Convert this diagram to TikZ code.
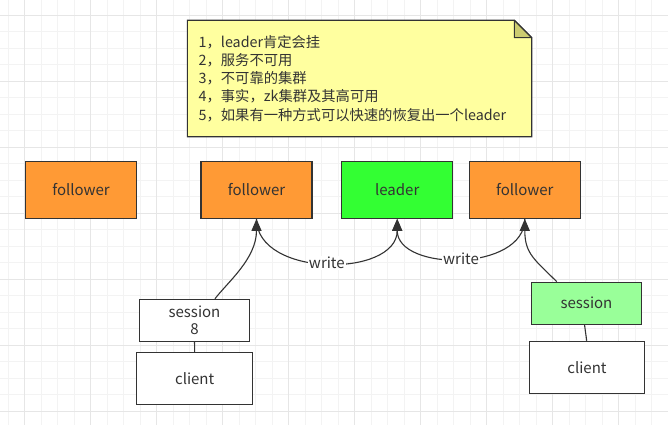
\documentclass[tikz,border=0pt]{standalone}
\usepackage{fontspec}
\setmainfont{Noto Sans CJK SC}
\usetikzlibrary{arrows.meta}
\definecolor{gridminor}{HTML}{F3F3F3}
\definecolor{gridmajor}{HTML}{E6E6E6}
\definecolor{ink}{HTML}{333333}
\definecolor{orangef}{HTML}{FF9A35}
\definecolor{greenf}{HTML}{33FF33}
\definecolor{lgreenf}{HTML}{99FF99}
\definecolor{notef}{HTML}{FFFF9F}
\definecolor{foldf}{HTML}{CCCC70}
\tikzset{
  box/.style={draw=ink, line width=1.1pt, text=ink, minimum width=#1, inner sep=0pt,
    font=\fontsize{15}{17}\selectfont, align=center},
  conn/.style={draw=ink, line width=1.1pt},
  tip/.style={-{Triangle[length=12pt,width=10pt]}},
  lbl/.style={fill=white, text=ink, inner sep=1pt, font=\fontsize{15}{17}\selectfont}
}
\begin{document}
\begin{tikzpicture}[x=1pt,y=-1pt]
\useasboundingbox (0,0) rectangle (668,425);
\fill[white] (0,0) rectangle (668,425);
% grid
\foreach \i in {0,...,40} {
  \pgfmathsetmacro\gx{8.2+16.5*\i}
  \draw[gridminor, line width=0.8pt] (\gx,0) -- (\gx,425);
}
\foreach \i in {0,...,26} {
  \pgfmathsetmacro\gy{-1.5+16.5*\i}
  \draw[gridminor, line width=0.8pt] (0,\gy) -- (668,\gy);
}
\foreach \i in {0,...,10} {
  \pgfmathsetmacro\gx{24.7+66*\i}
  \draw[gridmajor, line width=0.8pt] (\gx,0) -- (\gx,425);
}
\foreach \i in {0,...,6} {
  \pgfmathsetmacro\gy{15+66*\i}
  \draw[gridmajor, line width=0.8pt] (0,\gy) -- (668,\gy);
}
% note
\filldraw[fill=notef, draw=ink, line width=1.1pt]
  (187.3,20.3) -- (514.3,20.3) -- (531.7,37.7) -- (531.7,136.7) -- (187.3,136.7) -- cycle;
\filldraw[fill=foldf, draw=ink, line width=1.1pt, line join=round]
  (514.3,20.3) -- (514.3,37.7) -- (531.7,37.7) -- cycle;
\node[anchor=west, align=left, text=ink, inner sep=0pt,
      font=\fontsize{14.3}{18.2}\selectfont] (note) at (198.5,78.5)
  {1，leader肯定会挂\\2，服务不可用\\3，不可靠的集群\\4，事实，zk集群及其高可用\\5，如果有一种方式可以快速的恢复出一个leader};
% nodes
\node[box=111pt, minimum height=57pt, fill=orangef] (f1) at (81,189.8) {follower};
\node[box=111pt, minimum height=57pt, fill=orangef] (f2) at (256.5,189.8) {follower};
\node[box=111pt, minimum height=57pt, fill=greenf] (ld) at (397.2,189.8) {leader};
\node[box=111pt, minimum height=57pt, fill=orangef] (f3) at (524.8,189.8) {follower};
\node[box=110pt, minimum height=42pt, fill=white, font=\fontsize{15}{17}\selectfont] (s1) at (194.5,320.3) {session\\8};
\node[box=116pt, minimum height=52pt, fill=white] (c1) at (194.7,378.3) {client};
\node[box=110pt, minimum height=42pt, fill=lgreenf] (s2) at (586.5,303.2) {session};
\node[box=115pt, minimum height=52pt, fill=white] (c2) at (587,367.3) {client};
% connectors
\draw[conn] (c1.north) -- (s1.south);
\draw[conn] (c2.north -| 586.7,0) -- (s2.south -| 584.5,0);
\draw[conn, tip] ([xshift=20.5pt]s1.north) .. controls +(12,-16) and +(0,40) .. (f2.south);
\draw[conn, tip] ([xshift=-29.8pt]s2.north) .. controls +(-22,-22) and +(0,35) .. (f3.south);
\draw[conn, tip] (f2.south) .. controls +(0,59) and +(0,59) .. node[lbl, pos=0.5] (w1) {write} (ld.south);
\draw[conn, tip] (f3.south) .. controls +(0,53) and +(0,53) .. node[lbl, pos=0.5] (w2) {write} (ld.south);
\end{tikzpicture}
\end{document}
